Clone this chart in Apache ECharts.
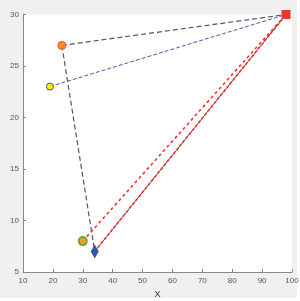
<!DOCTYPE html>
<html><head><meta charset="utf-8">
<script src="https://cdn.jsdelivr.net/npm/echarts@6/dist/echarts.min.js"></script>
<style>html,body{margin:0;padding:0;background:#fff;}#c{width:300px;height:301px;}</style>
</head><body><div id="c"></div>
<script>
const xTicks = [10, 100, 10];
const yTicks = [5, 30, 5];
const orangePt = [23, 27];
const yellowPt = [19, 23];
const redPt = [98, 30];
const greenPt = [30, 8];
const bluePt = [34, 7];

const chart = echarts.init(document.getElementById('c'), null, {renderer: 'canvas'});
function seg(name, a, b, color, width, dash, z) {
  return {name, type: 'line', data: [a, b], symbol: 'none', silent: true, z: z || 2,
    lineStyle: {color, width, type: dash}};
}
function pt(name, p, symbol, size, color, border, bw) {
  return {name, type: 'scatter', data: [p], symbol, symbolSize: size, z: 5, silent: true,
    itemStyle: {color, borderColor: border, borderWidth: bw, opacity: 1}};
}
chart.setOption({
  backgroundColor: '#f0f0f0',
  animation: false,
  grid: {left: 23, right: 8, top: 14.5, bottom: 29, show: true, backgroundColor: '#ffffff', borderWidth: 0,
    containLabel: false, outerBoundsMode: 'none'},
  xAxis: {type: 'value', min: xTicks[0], max: xTicks[1], interval: xTicks[2],
    name: 'X', nameLocation: 'middle', nameGap: 15, nameTextStyle: {color: '#333', fontSize: 9, fontFamily: 'Liberation Sans'},
    axisLine: {show: true, lineStyle: {color: '#888', width: 1}},
    axisTick: {show: true, inside: true, length: 3, lineStyle: {color: '#888'}},
    axisLabel: {color: '#555', fontSize: 8, margin: 5, fontFamily: 'Liberation Sans'},
    splitLine: {show: false}},
  yAxis: {type: 'value', min: yTicks[0], max: yTicks[1], interval: yTicks[2],
    name: 'Y', nameLocation: 'middle', nameGap: 16, nameTextStyle: {color: '#333', fontSize: 9, fontFamily: 'Liberation Sans'},
    axisLine: {show: true, lineStyle: {color: '#888', width: 1}},
    axisTick: {show: true, inside: true, length: 3, lineStyle: {color: '#888'}},
    axisLabel: {color: '#555', fontSize: 8, margin: 4, fontFamily: 'Liberation Sans'},
    splitLine: {show: false}},
  graphic: [
    {type: 'rect', shape: {x: 297, y: 0, width: 3, height: 301}, style: {fill: '#fff'}, z: 0, silent: true},
    {type: 'rect', shape: {x: 0, y: 298, width: 300, height: 3}, style: {fill: '#fff'}, z: 0, silent: true}
  ],
  series: [
    seg('k1', orangePt, redPt, '#555555', 1.2, [5, 3]),
    seg('k2', orangePt, bluePt, '#555555', 1.2, [5, 3]),
    seg('b1', yellowPt, redPt, '#4a5aaa', 1, [4, 2]),
    seg('r1', greenPt, redPt, '#ff2a2a', 1.6, [3, 3]),
    seg('k3', bluePt, redPt, '#555555', 1, 'solid', 2),
    seg('r2', bluePt, redPt, '#ff2a2a', 1.6, [3, 2], 3),
    pt('orange', orangePt, 'circle', 8, '#ff8c1a', '#e05050', 1),
    pt('yellow', yellowPt, 'circle', 7, '#ffee00', '#3a50b0', 1),
    pt('red', redPt, 'rect', 9, '#ee3333', '#ee3333', 0),
    pt('green', greenPt, 'circle', 8, '#ff9933', '#66aa33', 2),
    pt('blue', bluePt, 'diamond', [8, 14], '#3355aa', '#3355aa', 0)
  ]
});
</script></body></html>
